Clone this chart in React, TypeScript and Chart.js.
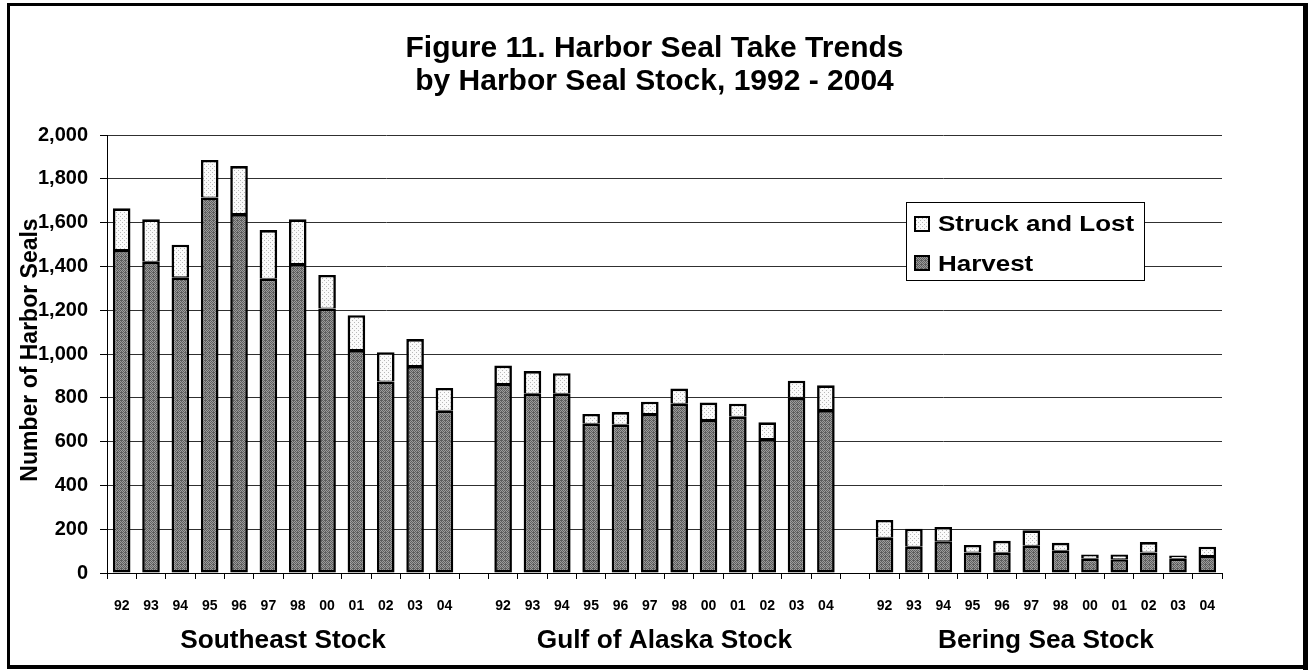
import React, { useEffect, useRef } from "react";
import { Chart, registerables } from "chart.js";

Chart.register(...registerables);

const FONT = '"Liberation Sans", Arial, Helvetica, sans-serif';

// ---- data ----
const years = ["92", "93", "94", "95", "96", "97", "98", "00", "01", "02", "03", "04"];
const stocks = ["Southeast Stock", "Gulf of Alaska Stock", "Bering Sea Stock"];
const southeastHarvest = [1475, 1421, 1350, 1715, 1639, 1344, 1411, 1208, 1018, 875, 945, 741];
const southeastStruck = [190, 194, 149, 171, 219, 222, 204, 153, 159, 133, 123, 104];
const gulfHarvest = [863, 819, 819, 682, 677, 726, 773, 699, 714, 612, 800, 744];
const gulfStruck = [84, 103, 93, 44, 58, 56, 69, 79, 59, 76, 78, 113];
const beringHarvest = [161, 120, 145, 94, 93, 125, 102, 65, 63, 94, 65, 78];
const beringStruck = [81, 82, 65, 34, 54, 70, 36, 20, 22, 47, 15, 42];
const yTicks = [0, 200, 400, 600, 800, 1000, 1200, 1400, 1600, 1800, 2000];
const titleLines = ["Figure 11. Harbor Seal Take Trends", "by Harbor Seal Stock, 1992 - 2004"];
const yTitle = "Number of Harbor Seals";
const seriesNames = ["Struck and Lost", "Harvest"];

// categories with one empty slot between stocks
const labels: string[] = [...years, "", ...years, "", ...years];
const harvestData: (number | null)[] = [...southeastHarvest, null, ...gulfHarvest, null, ...beringHarvest];
const struckData: (number | null)[] = [...southeastStruck, null, ...gulfStruck, null, ...beringStruck];
const groupRanges = stocks.map((_, i) => [i * (years.length + 1), i * (years.length + 1) + years.length - 1]);

function makePattern(ctx: CanvasRenderingContext2D, bg: string, fg: string, dots: number[][], size: number) {
  const c = document.createElement("canvas");
  c.width = size;
  c.height = size;
  const p = c.getContext("2d")!;
  p.fillStyle = bg;
  p.fillRect(0, 0, size, size);
  p.fillStyle = fg;
  dots.forEach(([x, y]) => p.fillRect(x, y, 1, 1));
  return ctx.createPattern(c, "repeat")!;
}

function stretchedText(
  ctx: CanvasRenderingContext2D,
  text: string,
  x: number,
  y: number,
  font: string,
  align: CanvasTextAlign,
  sx: number
) {
  ctx.save();
  ctx.font = font;
  ctx.textAlign = align;
  ctx.textBaseline = "alphabetic";
  ctx.fillStyle = "#000";
  ctx.translate(x, y);
  ctx.scale(sx, 1);
  ctx.fillText(text, 0, 0);
  ctx.restore();
}

export default function App() {
  const ref = useRef<HTMLCanvasElement | null>(null);

  useEffect(() => {
    const canvas = ref.current!;
    const ctx = canvas.getContext("2d")!;
    const harvestPattern = makePattern(ctx, "#9c9c9c", "#5e5e5e", [[0, 0], [2, 0], [1, 1], [3, 1], [0, 2], [2, 2], [1, 3], [3, 3], [1, 0]], 4);
    const struckPattern = makePattern(ctx, "#fafafa", "#b8b8b8", [[0, 0], [2, 2]], 4);

    const decor = {
      id: "decor",
      afterDraw(chart: any) {
        const c: CanvasRenderingContext2D = chart.ctx;
        // title
        c.save();
        c.fillStyle = "#000";
        c.font = `bold 30px ${FONT}`;
        c.textAlign = "center";
        c.textBaseline = "alphabetic";
        c.fillText(titleLines[0], 654.5, 57);
        c.fillText(titleLines[1], 654.5, 90);
        c.restore();
        // y title
        c.save();
        c.fillStyle = "#000";
        c.font = `bold 23px ${FONT}`;
        c.textAlign = "center";
        c.textBaseline = "alphabetic";
        c.translate(37, 350);
        c.rotate(-Math.PI / 2);
        c.fillText(yTitle, 0, 0);
        c.restore();
        // group labels
        const xs = chart.scales.x;
        stocks.forEach((name, i) => {
          const [a, b] = groupRanges[i];
          const cx = (xs.getPixelForValue(a) + xs.getPixelForValue(b)) / 2;
          stretchedText(c, name, cx, 648, `bold 25px ${FONT}`, "center", 1.05);
        });
        // legend
        c.save();
        c.fillStyle = "#fff";
        c.fillRect(906, 202, 239, 79);
        c.strokeStyle = "#000";
        c.lineWidth = 1;
        c.strokeRect(906.5, 202.5, 238, 78);
        const pats = [struckPattern, harvestPattern];
        const ys = [216, 255];
        const bases = [231, 271];
        seriesNames.forEach((n, i) => {
          c.fillStyle = pats[i];
          c.fillRect(914, ys[i], 16, 16);
          c.strokeStyle = "#000";
          c.lineWidth = 2;
          c.strokeRect(915, ys[i] + 1, 14, 14);
          stretchedText(c, n, 938, bases[i], `bold 22px ${FONT}`, "left", 1.18);
        });
        c.restore();
        // frame
        c.save();
        c.fillStyle = "#000";
        c.fillRect(7, 3, 1301, 3);
        c.fillRect(7, 3, 3, 666);
        c.fillRect(1303, 3, 5, 667);
        c.fillRect(7, 665, 1301, 4);
        c.restore();
      },
    };

    const chart = new Chart(canvas, {
      type: "bar",
      data: {
        labels,
        datasets: [
          {
            label: seriesNames[1],
            data: harvestData,
            backgroundColor: harvestPattern,
            borderColor: "#000",
            borderWidth: 2.6,
            borderSkipped: false,
            barPercentage: 0.6,
            categoryPercentage: 1,
          },
          {
            label: seriesNames[0],
            data: struckData,
            backgroundColor: struckPattern,
            borderColor: "#000",
            borderWidth: { top: 2.6, left: 2.6, right: 2.6, bottom: 1 },
            borderSkipped: false,
            barPercentage: 0.6,
            categoryPercentage: 1,
          },
        ],
      },
      options: {
        animation: false,
        responsive: false,
        maintainAspectRatio: false,
        layout: { padding: { left: 0, right: 87, top: 135, bottom: 0 } },
        plugins: {
          legend: { display: false },
          tooltip: { enabled: false },
          title: { display: false },
        },
        scales: {
          x: {
            type: "category",
            stacked: true,
            offset: true,
            grid: {
              display: true,
              offset: true,
              drawOnChartArea: false,
              drawTicks: true,
              tickLength: 6,
              color: "#000",
              lineWidth: 1,
            },
            border: { display: true, color: "#000", width: 1 },
            ticks: {
              autoSkip: false,
              maxRotation: 0,
              minRotation: 0,
              padding: 19,
              color: "#000",
              font: { family: FONT, size: 14, weight: "bold" },
            },
            afterFit: (s: any) => {
              s.height = 97;
            },
          },
          y: {
            stacked: true,
            min: 0,
            max: 2000,
            afterBuildTicks: (s: any) => {
              s.ticks = yTicks.map((v) => ({ value: v }));
            },
            ticks: {
              padding: 12,
              color: "#000",
              font: { family: FONT, size: 20, weight: "bold" },
              callback: (v: any) => Number(v).toLocaleString("en-US"),
            },
            grid: { color: "#303030", lineWidth: 1, tickLength: 7, tickColor: "#000" },
            border: { display: true, color: "#000", width: 1 },
            afterFit: (s: any) => {
              s.width = 107;
            },
          },
        },
      } as any,
      plugins: [decor],
    });
    return () => chart.destroy();
  }, []);

  return (
    <div style={{ position: "absolute", left: 0, top: 0, width: 1309, height: 670, background: "#fff" }}>
      <canvas ref={ref} width={1309} height={670} style={{ display: "block" }} />
    </div>
  );
}
